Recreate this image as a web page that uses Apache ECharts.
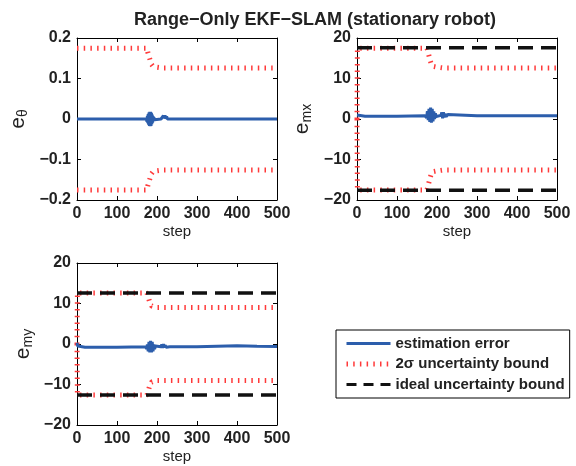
<!DOCTYPE html>
<html><head><meta charset="utf-8">
<script src="https://cdn.jsdelivr.net/npm/echarts@6/dist/echarts.min.js"></script>
<style>html,body{margin:0;padding:0;background:#fff}#c{width:576px;height:466px}</style>
</head><body><div id="c"></div>
<script>
// ---- data ----
const xTicks = [0, 100, 200, 300, 400, 500];
const thetaTicks = [-0.2, -0.1, 0, 0.1, 0.2];
const landTicks = [-20, -10, 0, 10, 20];

// panel 1: heading error e_theta
const errTheta = [[0,0],[173,0],[174,0.004],[175,-0.006],[176,0.008],[177,-0.01],[178,0.012],[179,-0.014],[180,0.016],[181,-0.017],[182,0.018],[183,-0.018],[184,0.018],[185,-0.017],[186,0.015],[187,-0.013],[188,0.011],[189,-0.009],[190,0.007],[191,-0.005],[192,0.004],[194,-0.002],[197,0],[210,0],[212,0.004],[214,-0.002],[216,0.008],[218,0.002],[220,0.009],[222,0.001],[224,0.006],[226,0],[228,0.004],[231,0.001],[235,0],[500,0]];
const sigUpTheta = [[0,0.175],[175,0.175],[177,0.165],[180,0.155],[183,0.145],[186,0.135],[190,0.13],[200,0.128],[215,0.126],[500,0.126]];
const sigLoTheta = [[0,-0.175],[175,-0.175],[177,-0.165],[180,-0.155],[183,-0.145],[186,-0.135],[190,-0.13],[200,-0.128],[215,-0.126],[500,-0.126]];

// panel 2: landmark x error e_mx
const errMx = [[0,1.0],[3,0.8],[20,0.7],[100,0.7],[170,0.8],[172,1.2],[174,0.3],[176,1.9],[178,-0.3],[180,2.5],[182,-0.7],[184,2.8],[186,-0.9],[188,2.5],[190,-0.6],[192,1.9],[194,0.0],[196,1.4],[198,0.6],[200,0.9],[210,0.9],[212,1.6],[214,0.2],[216,1.7],[218,0.4],[220,1.3],[223,0.6],[227,1.1],[232,0.8],[300,0.8],[500,0.8]];
const sigUpMx = [[0,0],[1,17.5],[175,17.5],[177,16.8],[180,15.6],[183,14.4],[186,13.5],[190,13],[200,12.8],[215,12.6],[500,12.6]];
const sigLoMx = [[0,0],[1,-17.5],[175,-17.5],[177,-16.8],[180,-15.6],[183,-14.4],[186,-13.5],[190,-13],[200,-12.8],[215,-12.6],[500,-12.6]];
const idealMx = [[0,17.6],[500,17.6]];
const idealMxLo = [[0,-17.6],[500,-17.6]];

// panel 3: landmark y error e_my
const errMy = [[0,0.3],[2,-0.5],[20,-0.8],[100,-0.8],[172,-0.7],[174,-1.2],[176,-0.1],[178,-1.8],[180,0.5],[182,-2.1],[184,0.8],[186,-2.1],[188,0.5],[190,-1.8],[192,-0.1],[194,-1.3],[196,-0.5],[198,-0.8],[210,-0.7],[212,-0.1],[214,-1.0],[216,0.0],[218,-0.9],[220,-0.3],[223,-0.8],[227,-0.4],[232,-0.7],[300,-0.7],[400,-0.45],[450,-0.55],[500,-0.6]];
const sigUpMy = [[0,0],[1,12.6],[175,12.6],[177,11.9],[180,10.9],[183,10],[186,9.4],[190,9.1],[200,9],[500,9]];
const sigLoMy = [[0,0],[1,-12.6],[175,-12.6],[177,-11.9],[180,-10.9],[183,-10],[186,-9.4],[190,-9.1],[200,-9],[500,-9]];
const idealMy = [[0,12.6],[500,12.6]];
const idealMyLo = [[0,-12.6],[500,-12.6]];

const names = ['estimation error', '2σ uncertainty bound', 'ideal uncertainty bound'];

// ---- styles ----
const FONT = '"Liberation Sans", Arial, sans-serif';
const BLUE = '#2c5eac', RED = '#ff3a3a', BLACK = '#111';
const errStyle = {color: BLUE, width: 3};
const sigStyle = {color: RED, width: 5, type: [1.5, 5.2], cap: 'butt'};
const idealStyle = {color: BLACK, width: 3.5, type: [15, 8], cap: 'butt'};

const grids = [
  {left: 77, top: 38, width: 200, height: 162},
  {left: 357, top: 38, width: 200, height: 162},
  {left: 77, top: 263, width: 200, height: 162}
];
const minus = v => String(v).replace('-', '\u2212');
const xAxes = [], yAxes = [];
const yCfg = [
  {min: -0.2, max: 0.2, interval: 0.1, name: '{e|e}{s|θ}', gap: 47},
  {min: -20, max: 20, interval: 10, name: '{e|e}{s|mx}', gap: 43},
  {min: -20, max: 20, interval: 10, name: '{e|e}{s|my}', gap: 42}
];
grids.forEach((g, i) => {
  const common = {gridIndex: i, axisLine: {show: true, onZero: false, lineStyle: {color: '#000', width: 1}},
    axisTick: {show: true, inside: true, length: 4, lineStyle: {color: '#000'}}, splitLine: {show: false}};
  xAxes.push(Object.assign({}, common, {type: 'value', position: 'bottom', min: xTicks[0], max: xTicks[xTicks.length-1], interval: xTicks[1]-xTicks[0],
    name: 'step', nameLocation: 'middle', nameGap: 24, nameTextStyle: {fontFamily: FONT, fontSize: 15, color: '#222'},
    axisLabel: {fontFamily: FONT, fontSize: 16, fontWeight: 'bold', color: '#222', margin: 6, formatter: minus}}));
  xAxes.push(Object.assign({}, common, {type: 'value', position: 'top', min: xTicks[0], max: xTicks[xTicks.length-1], interval: xTicks[1]-xTicks[0], axisLabel: {show: false}}));
  const c = yCfg[i];
  yAxes.push(Object.assign({}, common, {type: 'value', position: 'left', min: c.min, max: c.max, interval: c.interval,
    name: c.name, nameLocation: 'middle', nameRotate: 90, nameGap: c.gap,
    nameTextStyle: {fontFamily: FONT, color: '#222', rich: {e: {fontSize: 21, fontFamily: FONT, color: '#222'}, s: {fontSize: 14, fontFamily: FONT, color: '#222', padding: [9, 0, 0, 0]}}},
    axisLabel: {fontFamily: FONT, fontSize: 16, fontWeight: 'bold', color: '#222', margin: 6, formatter: minus}}));
  yAxes.push(Object.assign({}, common, {type: 'value', position: 'right', min: c.min, max: c.max, interval: c.interval, axisLabel: {show: false}}));
});

function line(name, data, gi, ls, z) {
  return {type: 'line', name: name, data: data, xAxisIndex: gi*2, yAxisIndex: gi*2, symbol: 'none', showSymbol: false,
    lineStyle: ls, itemStyle: {color: ls.color}, animation: false, silent: true, z: z, clip: true};
}
const series = [
  line(names[1], sigUpTheta, 0, sigStyle, 2), line(names[1], sigLoTheta, 0, sigStyle, 2), line(names[0], errTheta, 0, errStyle, 4),
  line(names[2], idealMx, 1, idealStyle, 3), line(names[2], idealMxLo, 1, idealStyle, 3),
  line(names[1], sigUpMx, 1, sigStyle, 2), line(names[1], sigLoMx, 1, sigStyle, 2), line(names[0], errMx, 1, errStyle, 4),
  line(names[2], idealMy, 2, idealStyle, 3), line(names[2], idealMyLo, 2, idealStyle, 3),
  line(names[1], sigUpMy, 2, sigStyle, 2), line(names[1], sigLoMy, 2, sigStyle, 2), line(names[0], errMy, 2, errStyle, 4)
];

const chart = echarts.init(document.getElementById('c'), null, {renderer: 'canvas'});
chart.setOption({
  animation: false,
  backgroundColor: '#fff',
  title: {text: 'Range\u2212Only EKF\u2212SLAM (stationary robot)', left: 310, textAlign: 'center', top: 6,
    textStyle: {fontFamily: FONT, fontSize: 18, fontWeight: 'bold', color: '#222'}},
  grid: grids,
  xAxis: xAxes,
  yAxis: yAxes,
  legend: {
    orient: 'vertical', left: 336, top: 330,
    padding: [6, 5, 6, 8], itemGap: 5.5, itemWidth: 44, itemHeight: 14,
    backgroundColor: '#fff', borderColor: '#000', borderWidth: 1,
    selectedMode: false,
    textStyle: {fontFamily: FONT, fontSize: 15, fontWeight: 'bold', color: '#222'},
    data: [
      {name: names[0], lineStyle: {color: BLUE, width: 3}, itemStyle: {opacity: 0}},
      {name: names[1], lineStyle: {color: RED, width: 5, type: [1.5, 5.2]}, itemStyle: {opacity: 0}},
      {name: names[2], lineStyle: {color: BLACK, width: 3, type: [10, 7]}, itemStyle: {opacity: 0}}
    ]
  },
  series: series
});
</script></body></html>
